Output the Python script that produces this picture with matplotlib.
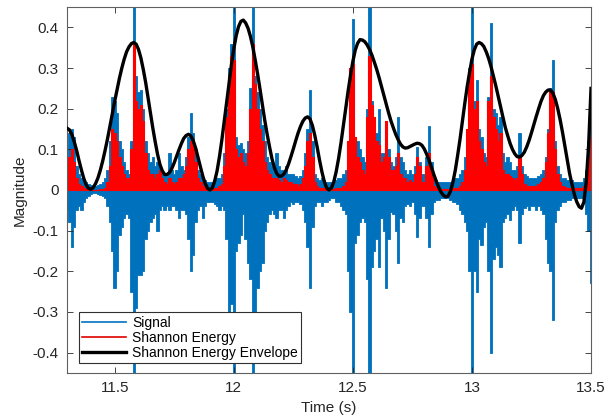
import numpy as np
import matplotlib
matplotlib.use("Agg")
import matplotlib.pyplot as plt

plt.rcParams['font.family'] = ['Liberation Sans', 'DejaVu Sans']
plt.rcParams['axes.unicode_minus'] = False

# samples every 10 ms, 11.30 s .. 13.50 s
t_start, t_end = 11.30, 13.50

# upper reach of the signal (positive side)
sig_pos = [
    0.08, 0.14, 0.15, 0.13, 0.06, 0.04, 0.03, 0.025, 0.02, 0.015,
    0.012, 0.01, 0.01, 0.012, 0.015, 0.02, 0.03, 0.05, 0.12, 0.23,
    0.22, 0.19, 0.12, 0.10, 0.07, 0.05, 0.04, 0.12, 0.50, 0.28,
    0.24, 0.245, 0.20, 0.12, 0.09, 0.07, 0.08, 0.06, 0.07, 0.06,
    0.05, 0.04, 0.035, 0.09, 0.05, 0.04, 0.05, 0.09, 0.06, 0.05,
    0.08, 0.13, 0.19, 0.14, 0.10, 0.05, 0.04, 0.03, 0.025, 0.02,
    0.02, 0.02, 0.025, 0.03, 0.03, 0.04, 0.09, 0.20, 0.30, 0.36,
    0.50, 0.13, 0.11, 0.115, 0.10, 0.09, 0.12, 0.25, 0.50, 0.28,
    0.24, 0.20, 0.16, 0.12, 0.08, 0.07, 0.06, 0.06, 0.09, 0.06,
    0.05, 0.05, 0.06, 0.04, 0.04, 0.04, 0.035, 0.03, 0.035, 0.05,
    0.09, 0.15, 0.245, 0.12, 0.04, 0.03, 0.025, 0.03, 0.025, 0.02,
    0.02, 0.02, 0.02, 0.025, 0.03, 0.03, 0.04, 0.05, 0.12, 0.30,
    0.42, 0.13, 0.12, 0.10, 0.08, 0.07, 0.20, 0.50, 0.22, 0.18,
    0.14, 0.20, 0.09, 0.09, 0.17, 0.10, 0.07, 0.06, 0.08, 0.18,
    0.08, 0.07, 0.05, 0.04, 0.05, 0.04, 0.06, 0.105, 0.07, 0.04,
    0.04, 0.08, 0.157, 0.07, 0.03, 0.025, 0.02, 0.02, 0.02, 0.02,
    0.02, 0.02, 0.025, 0.03, 0.03, 0.04, 0.05, 0.08, 0.15, 0.30,
    0.50, 0.22, 0.27, 0.15, 0.13, 0.09, 0.08, 0.23, 0.41, 0.20,
    0.19, 0.16, 0.18, 0.09, 0.07, 0.08, 0.07, 0.05, 0.05, 0.06,
    0.14, 0.06, 0.04, 0.035, 0.03, 0.03, 0.03, 0.03, 0.035, 0.04,
    0.05, 0.08, 0.15, 0.25, 0.32, 0.12, 0.06, 0.04, 0.03, 0.03,
    0.025, 0.025, 0.025, 0.02, 0.02, 0.02, 0.02, 0.03, 0.05, 0.12,
    0.25,
]

# lower reach of the signal (magnitude of the negative side)
sig_neg = [
    0.05, 0.08, 0.14, 0.09, 0.05, 0.04, 0.05, 0.03, 0.02, 0.015,
    0.01, 0.008, 0.008, 0.01, 0.012, 0.015, 0.02, 0.04, 0.08, 0.15,
    0.24, 0.20, 0.11, 0.09, 0.07, 0.06, 0.07, 0.25, 0.50, 0.29,
    0.21, 0.21, 0.20, 0.12, 0.10, 0.08, 0.07, 0.06, 0.10, 0.05,
    0.04, 0.05, 0.04, 0.05, 0.04, 0.04, 0.05, 0.07, 0.05, 0.05,
    0.06, 0.12, 0.20, 0.16, 0.08, 0.05, 0.04, 0.07, 0.04, 0.03,
    0.03, 0.03, 0.035, 0.04, 0.05, 0.04, 0.05, 0.12, 0.30, 0.28,
    0.50, 0.15, 0.13, 0.11, 0.06, 0.12, 0.18, 0.22, 0.50, 0.30,
    0.24, 0.20, 0.18, 0.10, 0.08, 0.06, 0.05, 0.06, 0.07, 0.05,
    0.05, 0.07, 0.05, 0.04, 0.03, 0.035, 0.03, 0.03, 0.035, 0.05,
    0.08, 0.14, 0.24, 0.09, 0.04, 0.03, 0.03, 0.04, 0.03, 0.03,
    0.025, 0.02, 0.02, 0.03, 0.03, 0.04, 0.05, 0.06, 0.20, 0.30,
    0.50, 0.13, 0.11, 0.08, 0.07, 0.08, 0.22, 0.50, 0.19, 0.15,
    0.12, 0.19, 0.07, 0.10, 0.24, 0.12, 0.055, 0.06, 0.10, 0.18,
    0.07, 0.08, 0.04, 0.035, 0.04, 0.03, 0.06, 0.115, 0.07, 0.04,
    0.04, 0.07, 0.14, 0.06, 0.03, 0.025, 0.025, 0.02, 0.02, 0.02,
    0.02, 0.025, 0.03, 0.03, 0.035, 0.05, 0.06, 0.08, 0.10, 0.20,
    0.50, 0.20, 0.25, 0.12, 0.135, 0.09, 0.08, 0.20, 0.40, 0.17,
    0.14, 0.16, 0.19, 0.08, 0.07, 0.06, 0.075, 0.05, 0.04, 0.05,
    0.13, 0.06, 0.045, 0.04, 0.05, 0.04, 0.04, 0.05, 0.04, 0.05,
    0.06, 0.12, 0.18, 0.20, 0.32, 0.08, 0.05, 0.04, 0.03, 0.03,
    0.025, 0.025, 0.02, 0.02, 0.02, 0.02, 0.02, 0.03, 0.06, 0.10,
    0.23,
]

# Shannon energy
energy = [
    0.05, 0.08, 0.10, 0.07, 0.03, 0.015, 0.01, 0.005, 0.003, 0.002,
    0.002, 0.001, 0.001, 0.001, 0.002, 0.003, 0.005, 0.02, 0.06, 0.15,
    0.14, 0.12, 0.08, 0.06, 0.04, 0.03, 0.03, 0.10, 0.36, 0.22,
    0.20, 0.21, 0.17, 0.09, 0.05, 0.04, 0.04, 0.03, 0.04, 0.05,
    0.03, 0.02, 0.015, 0.03, 0.02, 0.015, 0.02, 0.03, 0.03, 0.04,
    0.06, 0.10, 0.12, 0.11, 0.07, 0.03, 0.02, 0.01, 0.005, 0.003,
    0.003, 0.003, 0.004, 0.006, 0.01, 0.015, 0.06, 0.18, 0.28, 0.33,
    0.32, 0.10, 0.08, 0.09, 0.07, 0.06, 0.09, 0.20, 0.36, 0.26,
    0.20, 0.15, 0.12, 0.07, 0.05, 0.04, 0.03, 0.03, 0.03, 0.025,
    0.02, 0.03, 0.025, 0.02, 0.02, 0.015, 0.015, 0.01, 0.015, 0.03,
    0.06, 0.12, 0.14, 0.08, 0.02, 0.01, 0.005, 0.005, 0.004, 0.003,
    0.003, 0.003, 0.003, 0.004, 0.005, 0.006, 0.01, 0.02, 0.12, 0.30,
    0.31, 0.13, 0.08, 0.07, 0.05, 0.04, 0.18, 0.33, 0.21, 0.18,
    0.12, 0.11, 0.07, 0.08, 0.17, 0.08, 0.05, 0.05, 0.06, 0.09,
    0.04, 0.03, 0.03, 0.02, 0.025, 0.02, 0.04, 0.08, 0.06, 0.02,
    0.02, 0.06, 0.09, 0.05, 0.01, 0.005, 0.004, 0.003, 0.003, 0.003,
    0.003, 0.003, 0.004, 0.005, 0.006, 0.01, 0.02, 0.05, 0.15, 0.29,
    0.31, 0.20, 0.22, 0.12, 0.10, 0.07, 0.06, 0.22, 0.28, 0.18,
    0.15, 0.12, 0.14, 0.05, 0.04, 0.04, 0.035, 0.03, 0.025, 0.03,
    0.08, 0.04, 0.015, 0.01, 0.01, 0.01, 0.01, 0.01, 0.015, 0.02,
    0.03, 0.07, 0.14, 0.245, 0.24, 0.10, 0.04, 0.02, 0.01, 0.008,
    0.005, 0.005, 0.004, 0.004, 0.004, 0.004, 0.005, 0.01, 0.03, 0.08,
    0.13,
]

# Shannon energy envelope, same 10 ms grid
envelope = [
    0.152, 0.148, 0.137, 0.119, 0.098, 0.073, 0.050, 0.029, 0.013, 0.004,
    0.002, 0.006, 0.016, 0.030, 0.049, 0.072, 0.098, 0.126, 0.156, 0.187,
    0.218, 0.247, 0.275, 0.300, 0.322, 0.340, 0.352, 0.360, 0.363, 0.359,
    0.346, 0.325, 0.297, 0.265, 0.228, 0.191, 0.153, 0.119, 0.088, 0.063,
    0.047, 0.038, 0.038, 0.043, 0.053, 0.067, 0.083, 0.099, 0.114, 0.127,
    0.134, 0.137, 0.133, 0.121, 0.103, 0.080, 0.057, 0.034, 0.016, 0.004,
    0.000, 0.005, 0.022, 0.047, 0.082, 0.123, 0.169, 0.216, 0.263, 0.307,
    0.347, 0.379, 0.402, 0.415, 0.418, 0.411, 0.398, 0.378, 0.352, 0.320,
    0.286, 0.249, 0.210, 0.172, 0.138, 0.107, 0.078, 0.056, 0.041, 0.034,
    0.034, 0.039, 0.049, 0.064, 0.082, 0.101, 0.121, 0.140, 0.156, 0.169,
    0.177, 0.180, 0.175, 0.159, 0.135, 0.106, 0.074, 0.045, 0.021, 0.005,
    0.000, 0.005, 0.020, 0.045, 0.077, 0.115, 0.157, 0.200, 0.243, 0.281,
    0.316, 0.344, 0.361, 0.370, 0.369, 0.365, 0.357, 0.346, 0.332, 0.315,
    0.297, 0.277, 0.255, 0.233, 0.211, 0.190, 0.170, 0.153, 0.137, 0.124,
    0.113, 0.106, 0.103, 0.104, 0.107, 0.110, 0.113, 0.115, 0.114, 0.110,
    0.101, 0.088, 0.073, 0.056, 0.038, 0.022, 0.007, -0.005, -0.013, -0.017,
    -0.015, -0.003, 0.019, 0.048, 0.085, 0.125, 0.169, 0.213, 0.254, 0.289,
    0.322, 0.345, 0.359, 0.363, 0.360, 0.353, 0.340, 0.324, 0.304, 0.281,
    0.257, 0.231, 0.205, 0.179, 0.154, 0.134, 0.115, 0.100, 0.089, 0.082,
    0.081, 0.085, 0.093, 0.106, 0.122, 0.141, 0.161, 0.181, 0.200, 0.218,
    0.232, 0.241, 0.246, 0.246, 0.238, 0.223, 0.201, 0.174, 0.143, 0.109,
    0.076, 0.041, 0.014, -0.011, -0.029, -0.041, -0.045, -0.030, 0.020, 0.110,
    0.250,
]

t = np.linspace(t_start, t_end, len(sig_pos))

fig = plt.figure(figsize=(6.15, 4.18), dpi=100)
ax = fig.add_axes([0.109, 0.108, 0.852, 0.875])

blue = '#0072BD'
ax.fill_between(t, -np.array(sig_neg), sig_pos, step='mid', color=blue,
                lw=0.6, edgecolor=blue, zorder=1)
ax.fill_between(t, 0, energy, step='mid', color='#FF0000', lw=0.8,
                edgecolor='#FF0000', zorder=2)
ax.plot(t, envelope, color='black', lw=2.4, solid_joinstyle='round', zorder=3)

# legend entries as plain line samples
ax.plot([], [], color=blue, lw=1.2, label='Signal')
ax.plot([], [], color='#E00000', lw=1.2, label='Shannon Energy')
ax.plot([], [], color='black', lw=2.4, label='Shannon Energy Envelope')

ax.set_xlim(11.3, 13.5)
ax.set_ylim(-0.45, 0.45)
ax.set_xticks([11.5, 12, 12.5, 13, 13.5])
ax.set_xticklabels(['11.5', '12', '12.5', '13', '13.5'])
ax.set_yticks(np.round(np.arange(-0.4, 0.41, 0.1), 1))
ax.set_yticklabels(['-0.4', '-0.3', '-0.2', '-0.1', '0', '0.1', '0.2', '0.3', '0.4'])
ax.tick_params(direction='in', length=4, width=0.6, top=True, right=True,
               labelsize=11, colors='#262626', pad=6)
for s in ax.spines.values():
    s.set_color('#606060')
    s.set_linewidth(0.8)

ax.set_xlabel('Time (s)', fontsize=11, color='#262626', labelpad=4)
ax.set_ylabel('Magnitude', fontsize=11, color='#262626', labelpad=4)

leg = ax.legend(loc='lower left', bbox_to_anchor=(0.022, 0.026), borderaxespad=0,
                fontsize=10, handlelength=3.2, handletextpad=0.4, labelspacing=0.08,
                borderpad=0.25, fancybox=False, framealpha=1, edgecolor='#303030')
leg.get_frame().set_linewidth(0.8)

fig.savefig('out.png', dpi=100)
